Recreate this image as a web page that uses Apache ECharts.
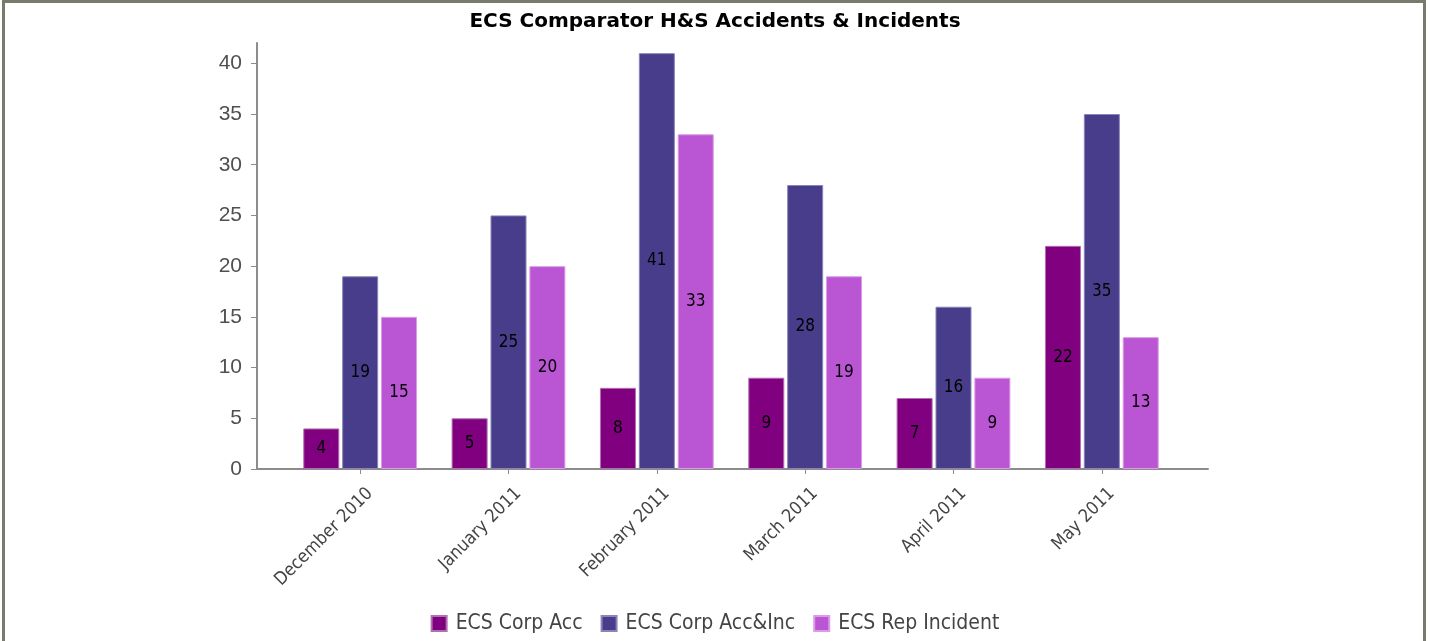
<!DOCTYPE html>
<html>
<head>
<meta charset="utf-8">
<title>ECS Comparator H&amp;S Accidents &amp; Incidents</title>
<script src="https://cdn.jsdelivr.net/npm/echarts@6/dist/echarts.min.js"></script>
<style>
  html, body { margin: 0; padding: 0; background: #ffffff; }
  #wrap { position: relative; width: 1430px; height: 641px; overflow: hidden; }
  #chart { position: absolute; left: 0; top: 0; width: 1430px; height: 641px; }
  #frame {
    position: absolute; left: 2px; top: 0; width: 1418px; height: 660px;
    border: 3px solid #7a7a6c; pointer-events: none;
  }
</style>
</head>
<body>
<div id="wrap">
  <div id="chart"></div>
  <div id="frame"></div>
</div>
<script>
// Monthly counts per series
const categories = ['December 2010', 'January 2011', 'February 2011', 'March 2011', 'April 2011', 'May 2011'];
const corpAcc = [4, 5, 8, 9, 7, 22];
const corpAccInc = [19, 25, 41, 28, 16, 35];
const repIncident = [15, 20, 33, 19, 9, 13];
const seriesNames = ['ECS Corp Acc', 'ECS Corp Acc&Inc', 'ECS Rep Incident'];
const yTicks = [0, 5, 10, 15, 20, 25, 30, 35, 40];

const colors = ['#800080', '#483d8b', '#ba55d3'];
const borders = ['#b070b0', '#8a84b8', '#dc9ae8'];
const Y_MAX = 42;
const CONDENSED = 'DejaVu Sans Condensed, DejaVu Sans';

const chart = echarts.init(document.getElementById('chart'), null, { renderer: 'canvas' });

function barSeries(i, data) {
  return {
    name: seriesNames[i],
    type: 'bar',
    xAxisIndex: 1,
    yAxisIndex: 1,
    data: data,
    barWidth: 36,
    barGap: '8%',
    itemStyle: { color: colors[i], borderColor: borders[i], borderWidth: 1 },
    label: {
      show: true,
      position: 'inside',
      color: '#000000',
      fontFamily: CONDENSED,
      fontSize: 17
    },
    emphasis: { disabled: true }
  };
}

chart.setOption({
  animation: false,
  backgroundColor: '#ffffff',
  title: {
    text: 'ECS Comparator H&S Accidents & Incidents',
    left: 'center',
    top: 7,
    textStyle: {
      fontFamily: 'DejaVu Sans',
      fontWeight: 'bold',
      fontSize: 20,
      color: '#000000'
    }
  },
  legend: {
    bottom: 2,
    left: 'center',
    itemWidth: 15,
    itemHeight: 15,
    itemGap: 18,
    icon: 'rect',
    textStyle: {
      fontFamily: CONDENSED,
      fontSize: 21,
      color: '#444444',
      padding: [0, 0, 0, 4]
    },
    data: seriesNames
  },
  grid: [
    // frame grid carrying the full-width axis lines and the value scale
    { left: 257, right: 222, top: 43, bottom: 172 },
    // inner grid holding the category bands
    { left: 286, right: 254, top: 43, bottom: 172 }
  ],
  xAxis: [
    {
      type: 'value', gridIndex: 0, min: 0, max: 1,
      axisLine: { show: true, onZero: false, lineStyle: { color: '#8c8c8c', width: 2 } },
      axisTick: { show: false }, axisLabel: { show: false }, splitLine: { show: false }
    },
    {
      type: 'category', gridIndex: 1, data: categories,
      axisLine: { show: false },
      axisTick: { show: true, alignWithLabel: true, length: 5, lineStyle: { color: '#8c8c8c' } },
      axisLabel: {
        interval: 0,
        rotate: 45,
        margin: 12,
        verticalAlign: 'top',
        lineHeight: 28,
        color: '#444444',
        fontFamily: CONDENSED,
        fontSize: 18
      }
    }
  ],
  yAxis: [
    {
      type: 'value', gridIndex: 0, min: 0, max: Y_MAX,
      axisLine: { show: true, lineStyle: { color: '#8c8c8c', width: 2 } },
      axisTick: { show: true, length: 6, inside: false, customValues: yTicks, lineStyle: { color: '#8c8c8c' } },
      axisLabel: {
        customValues: yTicks,
        margin: 15,
        color: '#505050',
        fontFamily: 'Liberation Sans, Arial',
        fontSize: 21
      },
      splitLine: { show: false }
    },
    {
      type: 'value', gridIndex: 1, min: 0, max: Y_MAX, show: false,
      splitLine: { show: false }
    }
  ],
  series: [
    barSeries(0, corpAcc),
    barSeries(1, corpAccInc),
    barSeries(2, repIncident)
  ]
});
</script>
</body>
</html>
